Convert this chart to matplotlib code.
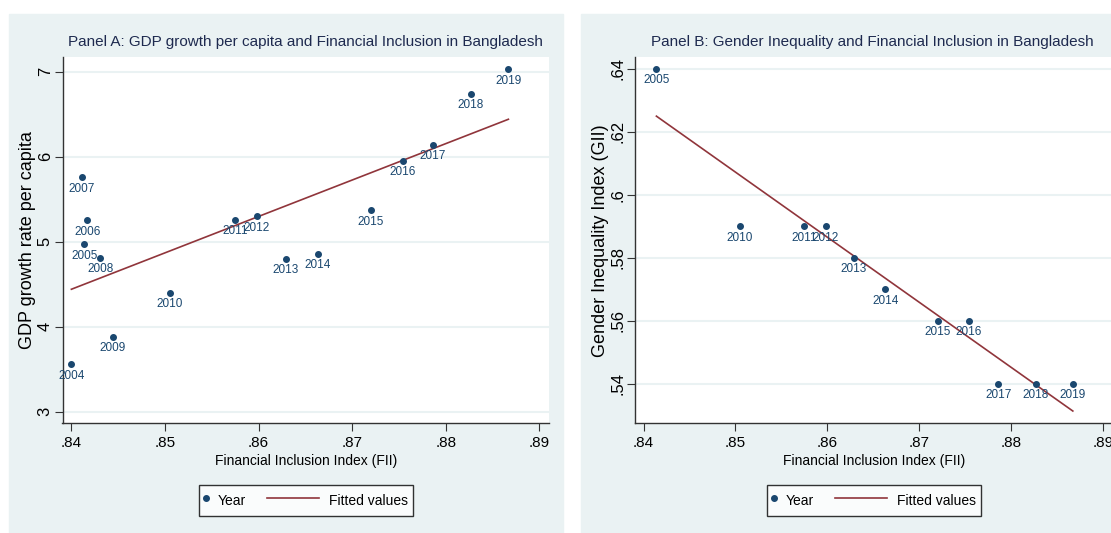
import numpy as np
import matplotlib.pyplot as plt
from matplotlib.patches import Rectangle
from matplotlib.lines import Line2D
from matplotlib.legend_handler import HandlerLine2D

# datos
years = [2004, 2005, 2006, 2007, 2008, 2009, 2010, 2011, 2012,
         2013, 2014, 2015, 2016, 2017, 2018, 2019]
fii = [0.8400, 0.8414, 0.8417, 0.8411, 0.8431, 0.8444, 0.8505, 0.8575, 0.8598,
       0.8629, 0.8663, 0.8720, 0.8754, 0.8786, 0.8827, 0.8867]
gdp = [3.56, 4.97, 5.25, 5.76, 4.81, 3.88, 4.40, 5.26, 5.30,
       4.80, 4.86, 5.37, 5.95, 6.14, 6.74, 7.03]

years_b = [2005, 2010, 2011, 2012, 2013, 2014, 2015, 2016, 2017, 2018, 2019]
fii_b = [0.8414, 0.8505, 0.8575, 0.8598, 0.8629, 0.8663, 0.8720, 0.8754, 0.8786, 0.8827, 0.8867]
gii = [0.64, 0.59, 0.59, 0.59, 0.58, 0.57, 0.56, 0.56, 0.54, 0.54, 0.54]

# rectas ajustadas (extremos leidos)
fit_a_x = [0.8400, 0.8867]
fit_a_y = [4.44, 6.44]
fit_b_x = [0.8414, 0.8867]
fit_b_y = [0.6250, 0.5313]

xticks = [0.84, 0.85, 0.86, 0.87, 0.88, 0.89]
xtick_labels = ['.84', '.85', '.86', '.87', '.88', '.89']
yticks_a = [3, 4, 5, 6, 7]
ytick_labels_a = ['3', '4', '5', '6', '7']
yticks_b = [0.54, 0.56, 0.58, 0.60, 0.62, 0.64]
ytick_labels_b = ['.54', '.56', '.58', '.6', '.62', '.64']

BG = '#EAF2F3'
NAVY = '#1a476f'
RED = '#90353b'
FONT = ['Liberation Sans', 'DejaVu Sans']
plt.rcParams['font.family'] = FONT

W, H = 1111, 533
fig = plt.figure(figsize=(11.11, 5.33), dpi=100)
fig.patch.set_facecolor('white')

# fondos de cada panel (en pixeles)
fig.add_artist(Rectangle((9 / W, 0), (563 - 9) / W, 1 - 14 / H,
                         transform=fig.transFigure, color=BG, zorder=0))
fig.add_artist(Rectangle((581 / W, 0), (1140 - 581) / W, 1 - 14 / H,
                         transform=fig.transFigure, color=BG, zorder=0))

bottom = 1 - 423.3 / H
height = (423.3 - 57.3) / H
ax_a = fig.add_axes([62.5 / W, bottom, (549.3 - 62.5) / W, height])
ax_b = fig.add_axes([634.8 / W, bottom, 478.2 / W, height])


class HandlerLongLine(HandlerLine2D):
    # la linea de la leyenda es mas larga que el hueco del marcador
    def create_artists(self, legend, orig_handle, xdescent, ydescent,
                       width, height, fontsize, trans):
        arts = super().create_artists(legend, orig_handle, xdescent, ydescent,
                                      width, height, fontsize, trans)
        ext = 3.75 * fontsize
        for a in arts:
            y0 = np.asarray(a.get_ydata())[0]
            a.set_data([-xdescent + width - ext, -xdescent + width], [y0, y0])
        return arts


def style(ax, yticks, ylabels, ylim, ylabel, title, title_x):
    ax.set_facecolor('white')
    ax.set_xlim(0.83905, 0.89107)
    ax.set_ylim(*ylim)
    for s in ['top', 'right']:
        ax.spines[s].set_visible(False)
    for s in ['left', 'bottom']:
        ax.spines[s].set_color('#333333')
        ax.spines[s].set_linewidth(1.0)
    ax.set_xticks(xticks)
    ax.set_xticklabels(xtick_labels, fontsize=11)
    ax.set_yticks(yticks)
    ax.set_yticklabels(ylabels, fontsize=12, rotation=90, va='center')
    ax.tick_params(length=6, width=0.8, color='#333333')
    ax.tick_params(axis='x', pad=3)
    ax.tick_params(axis='y', pad=1)
    ax.grid(axis='y', color=BG, linewidth=1.5)
    ax.set_axisbelow(True)
    ax.set_xlabel('Financial Inclusion Index (FII)', fontsize=10, labelpad=3)
    ax.set_ylabel(ylabel, fontsize=13, labelpad=1)
    ax.set_title(title, fontsize=11, color='#1e2a4f', pad=8, x=title_x)
    h1 = Line2D([], [], marker='o', ls='none', markersize=4, color=NAVY, label='Year')
    h2 = Line2D([], [], color=RED, lw=1.2, label='Fitted values')
    leg = ax.legend(handles=[h1, h2], loc='upper center', bbox_to_anchor=(0.5, -0.168),
                    borderaxespad=0, ncol=2, frameon=True, fancybox=False,
                    edgecolor='black', fontsize=10, handlelength=0.3,
                    handleheight=1.9, columnspacing=5.0, handletextpad=0.66,
                    borderpad=0.4, handler_map={h2: HandlerLongLine()})
    leg.get_frame().set_linewidth(1.0)


style(ax_a, yticks_a, ytick_labels_a, (2.863, 7.169),
      'GDP growth rate per capita',
      'Panel A: GDP growth per capita and Financial Inclusion in Bangladesh', 0.5)
style(ax_b, yticks_b, ytick_labels_b, (0.5274, 0.6437),
      'Gender Inequality Index (GII)',
      'Panel B: Gender Inequality and Financial Inclusion in Bangladesh', 0.497)

ax_a.scatter(fii, gdp, s=16, color=NAVY, zorder=3)
ax_a.plot(fit_a_x, fit_a_y, color=RED, lw=1.2, zorder=2)
for yr, x, y in zip(years, fii, gdp):
    ax_a.annotate(str(yr), (x, y), xytext=(0, -4), textcoords='offset points',
                  ha='center', va='top', color=NAVY, fontsize=8.5)

ax_b.scatter(fii_b, gii, s=16, color=NAVY, zorder=3)
ax_b.plot(fit_b_x, fit_b_y, color=RED, lw=1.2, zorder=2)
for yr, x, y in zip(years_b, fii_b, gii):
    ax_b.annotate(str(yr), (x, y), xytext=(0, -4), textcoords='offset points',
                  ha='center', va='top', color=NAVY, fontsize=8.5)

fig.savefig('out.png', dpi=100, facecolor='white')
